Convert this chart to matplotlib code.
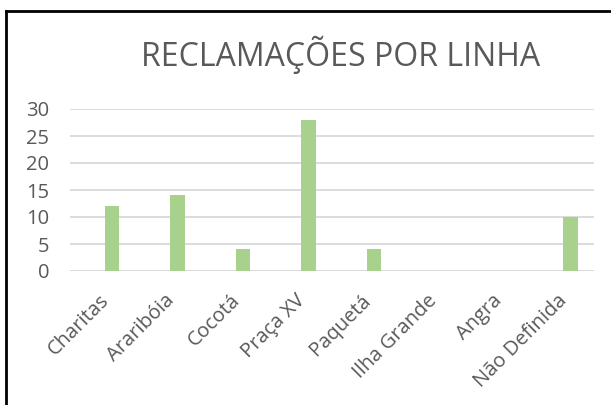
import matplotlib.pyplot as plt
import matplotlib.transforms as mtransforms
from matplotlib.lines import Line2D

linhas = ["Charitas", "Araribóia", "Cocotá", "Praça XV", "Paquetá",
          "Ilha Grande", "Angra", "Não Definida"]
reclamacoes = [12, 14, 4, 28, 4, 0, 0, 10]
yticks = [0, 5, 10, 15, 20, 25, 30]

plt.rcParams['font.family'] = ['Open Sans', 'DejaVu Sans']
text_color = '#595959'

fig = plt.figure(figsize=(6.11, 4.05), dpi=100)
ax = fig.add_axes([70 / 611, 1 - 271 / 405, 524 / 611, 162 / 405])

x = range(len(linhas))
ax.bar(x, reclamacoes, width=0.215, color='#A9D18E', zorder=3)
ax.set_xlim(-0.641, 7.359)
ax.set_ylim(0, 30)
ax.set_yticks(yticks)
ax.yaxis.grid(True, color='#D9D9D9', linewidth=1.3, zorder=0)
ax.set_xticks(list(x))
ax.set_xticklabels(linhas, rotation=45, ha='right', rotation_mode='anchor',
                   fontsize=14.5, color=text_color)
ax.tick_params(axis='y', labelsize=14.5, labelcolor=text_color, length=0, pad=15)
ax.tick_params(axis='x', length=0, pad=12)

# nudge the slanted labels so they end just left of each bar
shift = mtransforms.ScaledTranslation(-0.13, -0.03, fig.dpi_scale_trans)
for lbl in ax.get_xticklabels():
    lbl.set_transform(lbl.get_transform() + shift)

for s in ax.spines.values():
    s.set_visible(False)
ax.axhline(0, color='#D9D9D9', linewidth=1.3, zorder=2)

fig.text(341 / 611, 1 - 55 / 405, "RECLAMAÇÕES POR LINHA", ha='center', va='center',
         fontsize=23, color=text_color)

# frame of the chart box (top and left edges)
fig.add_artist(Line2D([6 / 611, 1], [1 - 10.5 / 405] * 2, transform=fig.transFigure,
                      color='black', linewidth=2))
fig.add_artist(Line2D([6 / 611] * 2, [0, 1 - 10.5 / 405], transform=fig.transFigure,
                      color='black', linewidth=2))

fig.savefig('out.png', dpi=100)
